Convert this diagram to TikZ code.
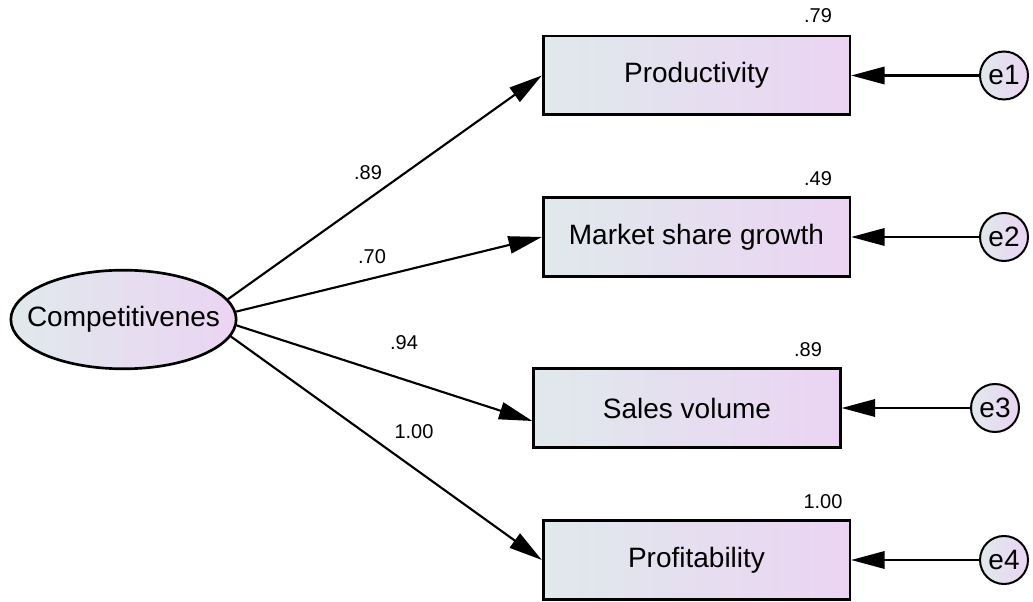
\documentclass[tikz,border=0pt]{standalone}
\usepackage{fontspec}
\setmainfont{Liberation Sans}
\usetikzlibrary{arrows.meta,shapes.geometric}

\definecolor{shadeL}{RGB}{224,233,236}
\definecolor{shadeR}{RGB}{235,212,243}

\tikzset{
  observed/.style={draw, line width=2pt, left color=shadeL, right color=shadeR,
    minimum width=230pt, minimum height=59pt, inner sep=0pt,
    font=\fontsize{21}{25}\selectfont},
  latent/.style={ellipse, draw, line width=2pt, left color=shadeL, right color=shadeR,
    minimum width=169pt, minimum height=74pt, inner sep=0pt,
    label={[font=\fontsize{21}{25}\selectfont]center:#1}},
  error/.style={circle, draw, line width=1.5pt, left color=shadeL, right color=shadeR,
    minimum size=36pt, inner sep=0pt, font=\fontsize{21}{25}\selectfont},
  regarrow/.style={line width=1.6pt, -{Triangle[length=25pt,width=13pt]}},
  coef/.style={inner sep=0pt, font=\fontsize{15}{18}\selectfont},
}

\begin{document}
\begin{tikzpicture}[x=0.75pt,y=0.75pt,yscale=-1,xscale=1]
\useasboundingbox (0,0) rectangle (1033,602);

%Shape: Ellipse
\node [latent=Competitivenes] (comp) at (123.5,319.5) {};

%Shape: Rectangle
\node [observed] (prod) at (696.5,75.5) {Productivity};
%Shape: Rectangle
\node [observed] (mshare) at (696.5,237) {Market share growth};
%Shape: Rectangle
\node [observed] (sales) at (687,408) {Sales volume};
%Shape: Rectangle
\node [observed] (profit) at (696.5,560) {Profitability};

%Shape: Circle
\node [error] (e1) at (1004,75.5) {e1};
\node [error] (e2) at (1004,237) {e2};
\node [error] (e3) at (995,408) {e3};
\node [error] (e4) at (1004,560) {e4};

%Straight Lines
\draw [regarrow] (comp.11) -- (prod.west);
\draw [regarrow] (comp.4) -- (mshare.west);
\draw [regarrow] (comp.-3) -- ([yshift=9.75pt]sales.west);
\draw [regarrow] (comp.-9) -- (profit.west);
%Straight Lines
\draw [regarrow] (e1) -- (prod);
\draw [regarrow] (e2) -- (mshare);
\draw [regarrow] (e3) -- (sales);
\draw [regarrow] (e4) -- (profit);

% Text Node
\node [coef] (w1) at (368,173) {.89};
\node [coef] (w2) at (372,257) {.70};
\node [coef] (w3) at (404,343) {.94};
\node [coef] (w4) at (414,432) {1.00};
% Text Node
\node [coef] (r1) at (818,16) {.79};
\node [coef] (r2) at (818,179) {.49};
\node [coef] (r3) at (808,350) {.89};
\node [coef] (r4) at (823,502) {1.00};

\end{tikzpicture}
\end{document}
